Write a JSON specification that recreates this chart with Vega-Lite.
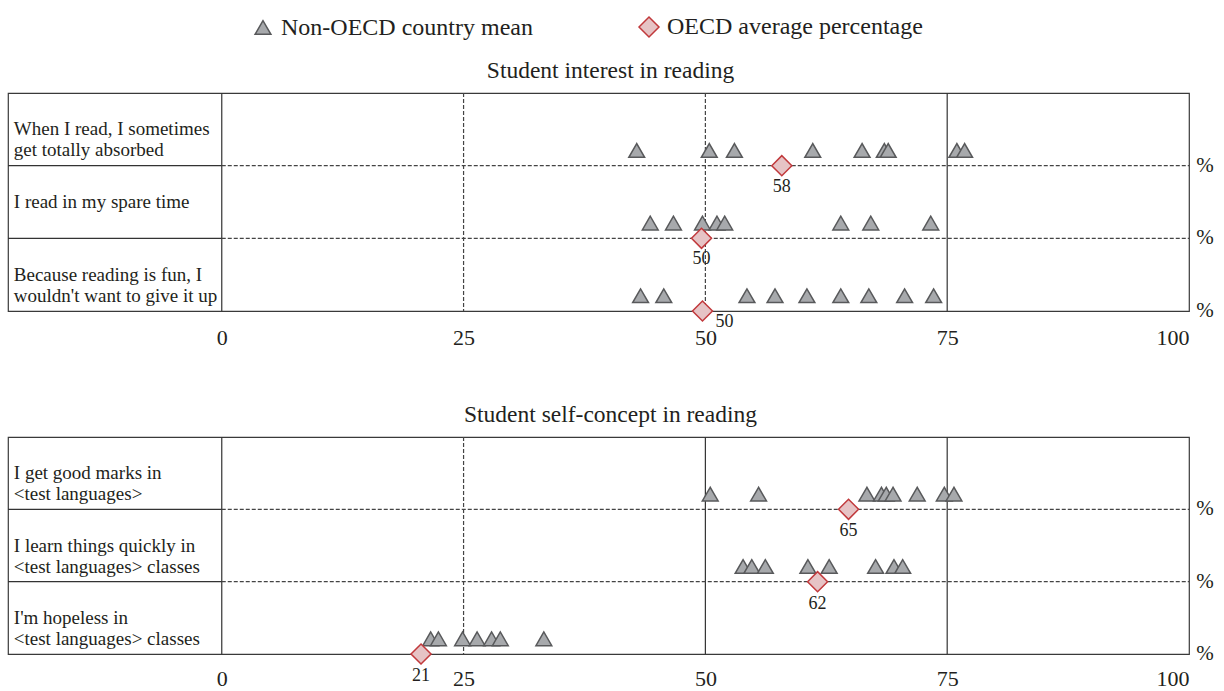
{
  "$schema": "https://vega.github.io/schema/vega-lite/v6.json",
  "background": "white",
  "padding": {"left": 6, "top": 15, "right": 0, "bottom": 0},
  "config": {
    "font": "Liberation Serif",
    "view": {"stroke": "#3a3a3a", "strokeWidth": 1.2},
    "axis": {"labelFont": "Liberation Serif", "labelFontSize": 22, "labelColor": "#231f20"},
    "title": {"font": "Liberation Serif", "fontSize": 23.5, "fontWeight": "normal", "color": "#231f20", "offset": 10, "anchor": "middle", "dx": 12},
    "legend": {"labelFont": "Liberation Serif", "labelFontSize": 24, "labelColor": "#231f20", "labelLimit": 500, "symbolStrokeWidth": 1.5, "labelOffset": 6, "columnPadding": 103, "padding": 0}
  },
  "spacing": 53,
  "datasets": {
    "pts": [
      {"panel": "interest", "row": 1, "kind": "Non-OECD country mean", "value": 42.9},
      {"panel": "interest", "row": 1, "kind": "Non-OECD country mean", "value": 50.4},
      {"panel": "interest", "row": 1, "kind": "Non-OECD country mean", "value": 53.0},
      {"panel": "interest", "row": 1, "kind": "Non-OECD country mean", "value": 61.1},
      {"panel": "interest", "row": 1, "kind": "Non-OECD country mean", "value": 66.2},
      {"panel": "interest", "row": 1, "kind": "Non-OECD country mean", "value": 68.5},
      {"panel": "interest", "row": 1, "kind": "Non-OECD country mean", "value": 68.9},
      {"panel": "interest", "row": 1, "kind": "Non-OECD country mean", "value": 76.0},
      {"panel": "interest", "row": 1, "kind": "Non-OECD country mean", "value": 76.8},
      {"panel": "interest", "row": 1, "kind": "OECD average percentage", "value": 57.9},
      {"panel": "interest", "row": 2, "kind": "Non-OECD country mean", "value": 44.3},
      {"panel": "interest", "row": 2, "kind": "Non-OECD country mean", "value": 46.7},
      {"panel": "interest", "row": 2, "kind": "Non-OECD country mean", "value": 49.7},
      {"panel": "interest", "row": 2, "kind": "Non-OECD country mean", "value": 51.2},
      {"panel": "interest", "row": 2, "kind": "Non-OECD country mean", "value": 52.0},
      {"panel": "interest", "row": 2, "kind": "Non-OECD country mean", "value": 64.0},
      {"panel": "interest", "row": 2, "kind": "Non-OECD country mean", "value": 67.1},
      {"panel": "interest", "row": 2, "kind": "Non-OECD country mean", "value": 73.3},
      {"panel": "interest", "row": 2, "kind": "OECD average percentage", "value": 49.6},
      {"panel": "interest", "row": 3, "kind": "Non-OECD country mean", "value": 43.3},
      {"panel": "interest", "row": 3, "kind": "Non-OECD country mean", "value": 45.7},
      {"panel": "interest", "row": 3, "kind": "Non-OECD country mean", "value": 54.3},
      {"panel": "interest", "row": 3, "kind": "Non-OECD country mean", "value": 57.2},
      {"panel": "interest", "row": 3, "kind": "Non-OECD country mean", "value": 60.5},
      {"panel": "interest", "row": 3, "kind": "Non-OECD country mean", "value": 64.0},
      {"panel": "interest", "row": 3, "kind": "Non-OECD country mean", "value": 66.9},
      {"panel": "interest", "row": 3, "kind": "Non-OECD country mean", "value": 70.6},
      {"panel": "interest", "row": 3, "kind": "Non-OECD country mean", "value": 73.6},
      {"panel": "interest", "row": 3, "kind": "OECD average percentage", "value": 49.7},
      {"panel": "self", "row": 1, "kind": "Non-OECD country mean", "value": 50.5},
      {"panel": "self", "row": 1, "kind": "Non-OECD country mean", "value": 55.5},
      {"panel": "self", "row": 1, "kind": "Non-OECD country mean", "value": 66.7},
      {"panel": "self", "row": 1, "kind": "Non-OECD country mean", "value": 68.2},
      {"panel": "self", "row": 1, "kind": "Non-OECD country mean", "value": 68.7},
      {"panel": "self", "row": 1, "kind": "Non-OECD country mean", "value": 69.4},
      {"panel": "self", "row": 1, "kind": "Non-OECD country mean", "value": 71.9},
      {"panel": "self", "row": 1, "kind": "Non-OECD country mean", "value": 74.7},
      {"panel": "self", "row": 1, "kind": "Non-OECD country mean", "value": 75.7},
      {"panel": "self", "row": 1, "kind": "OECD average percentage", "value": 64.8},
      {"panel": "self", "row": 2, "kind": "Non-OECD country mean", "value": 53.9},
      {"panel": "self", "row": 2, "kind": "Non-OECD country mean", "value": 54.8},
      {"panel": "self", "row": 2, "kind": "Non-OECD country mean", "value": 56.2},
      {"panel": "self", "row": 2, "kind": "Non-OECD country mean", "value": 60.6},
      {"panel": "self", "row": 2, "kind": "Non-OECD country mean", "value": 62.8},
      {"panel": "self", "row": 2, "kind": "Non-OECD country mean", "value": 67.6},
      {"panel": "self", "row": 2, "kind": "Non-OECD country mean", "value": 69.5},
      {"panel": "self", "row": 2, "kind": "Non-OECD country mean", "value": 70.4},
      {"panel": "self", "row": 2, "kind": "OECD average percentage", "value": 61.6},
      {"panel": "self", "row": 3, "kind": "Non-OECD country mean", "value": 21.6},
      {"panel": "self", "row": 3, "kind": "Non-OECD country mean", "value": 22.4},
      {"panel": "self", "row": 3, "kind": "Non-OECD country mean", "value": 24.9},
      {"panel": "self", "row": 3, "kind": "Non-OECD country mean", "value": 26.4},
      {"panel": "self", "row": 3, "kind": "Non-OECD country mean", "value": 27.9},
      {"panel": "self", "row": 3, "kind": "Non-OECD country mean", "value": 28.8},
      {"panel": "self", "row": 3, "kind": "Non-OECD country mean", "value": 33.3},
      {"panel": "self", "row": 3, "kind": "OECD average percentage", "value": 20.6}
    ],
    "items": [
      {"panel": "interest", "row": 1, "label": "When I read, I sometimes\nget totally absorbed", "unit": "%"},
      {"panel": "interest", "row": 2, "label": "I read in my spare time", "unit": "%"},
      {"panel": "interest", "row": 3, "label": "Because reading is fun, I\nwouldn't want to give it up", "unit": "%"},
      {"panel": "self", "row": 1, "label": "I get good marks in\n<test languages>", "unit": "%"},
      {"panel": "self", "row": 2, "label": "I learn things quickly in\n<test languages> classes", "unit": "%"},
      {"panel": "self", "row": 3, "label": "I'm hopeless in\n<test languages> classes", "unit": "%"}
    ]
  },
  "vconcat": [
    {
      "title": {"text": "Student interest in reading"},
      "width": 1181,
      "height": 218,
      "layer": [
        {
          "data": {"values": [{"v": 0}, {"v": 75}]},
          "mark": {"type": "rule", "color": "#333333", "strokeWidth": 1.2},
          "encoding": {
            "x": {"field": "v", "type": "quantitative",
              "scale": {"domain": [-22.1, 100], "nice": false, "zero": false},
              "axis": {"values": [0, 25, 50, 75, 100], "grid": false, "domain": false, "ticks": false, "labelPadding": 16, "title": null}}
          }
        },
        {
          "data": {"values": [{"v": 25}, {"v": 50}]},
          "mark": {"type": "rule", "color": "#444444", "strokeWidth": 1.2, "strokeDash": [4, 2]},
          "encoding": {"x": {"field": "v", "type": "quantitative"}}
        },
        {
          "data": {"name": "items"},
          "transform": [{"filter": "datum.panel == 'interest' && datum.row < 3"}],
          "mark": {"type": "rule", "color": "#333333", "strokeWidth": 1.2},
          "encoding": {
            "x": {"datum": -22.1},
            "x2": {"datum": 0},
            "y": {"field": "row", "type": "ordinal", "bandPosition": 1, "scale": {"type": "band", "domain": [1, 2, 3], "paddingInner": 0, "paddingOuter": 0}, "axis": null}
          }
        },
        {
          "data": {"name": "items"},
          "transform": [{"filter": "datum.panel == 'interest' && datum.row < 3"}],
          "mark": {"type": "rule", "color": "#444444", "strokeWidth": 1.2, "strokeDash": [4, 2]},
          "encoding": {
            "x": {"datum": 0},
            "x2": {"datum": 100},
            "y": {"field": "row", "type": "ordinal", "bandPosition": 1}
          }
        },
        {
          "data": {"name": "items"},
          "transform": [{"filter": "datum.panel == 'interest'"}],
          "mark": {"type": "text", "align": "left", "baseline": "middle", "fontSize": 19, "lineHeight": 21, "lineBreak": "\n", "color": "#231f20"},
          "encoding": {
            "x": {"datum": -21.5},
            "y": {"field": "row", "type": "ordinal", "bandPosition": 0.5},
            "text": {"field": "label"}
          }
        },
        {
          "data": {"name": "items"},
          "transform": [{"filter": "datum.panel == 'interest'"}],
          "mark": {"type": "text", "align": "center", "baseline": "middle", "fontSize": 21, "dx": 16, "color": "#231f20"},
          "encoding": {
            "x": {"datum": 100},
            "y": {"field": "row", "type": "ordinal", "bandPosition": 1},
            "text": {"field": "unit"}
          }
        },
        {
          "data": {"name": "pts"},
          "transform": [{"filter": "datum.panel == 'interest' && datum.kind == 'Non-OECD country mean'"}],
          "mark": {"type": "point", "filled": true, "opacity": 1, "strokeWidth": 1.5},
          "encoding": {
            "x": {"field": "value", "type": "quantitative"},
            "y": {"field": "row", "type": "ordinal", "bandPosition": 0.79},
            "shape": {"field": "kind", "type": "nominal", "scale": {"domain": ["Non-OECD country mean", "OECD average percentage"], "range": ["triangle-up", "diamond"]},
              "legend": {"orient": "none", "direction": "horizontal", "legendX": 243, "legendY": -78, "title": null}},
            "fill": {"field": "kind", "type": "nominal", "scale": {"domain": ["Non-OECD country mean", "OECD average percentage"], "range": ["#a7a9ac", "#e6c3c5"]}},
            "stroke": {"field": "kind", "type": "nominal", "scale": {"domain": ["Non-OECD country mean", "OECD average percentage"], "range": ["#58595b", "#c1393c"]}},
            "size": {"field": "kind", "type": "nominal", "scale": {"domain": ["Non-OECD country mean", "OECD average percentage"], "range": [250, 400]}}
          }
        },
        {
          "data": {"name": "pts"},
          "transform": [{"filter": "datum.panel == 'interest' && datum.kind == 'OECD average percentage'"}],
          "mark": {"type": "point", "filled": true, "opacity": 1, "strokeWidth": 1.5},
          "encoding": {
            "x": {"field": "value", "type": "quantitative"},
            "y": {"field": "row", "type": "ordinal", "bandPosition": 1},
            "shape": {"field": "kind", "type": "nominal"},
            "fill": {"field": "kind", "type": "nominal"},
            "stroke": {"field": "kind", "type": "nominal"},
            "size": {"field": "kind", "type": "nominal"}
          }
        },
        {
          "data": {"name": "pts"},
          "transform": [{"filter": "datum.panel == 'interest' && datum.kind == 'OECD average percentage' && datum.row < 3"}],
          "mark": {"type": "text", "align": "center", "baseline": "middle", "fontSize": 18, "dy": 21, "color": "#231f20"},
          "encoding": {
            "x": {"field": "value", "type": "quantitative"},
            "y": {"field": "row", "type": "ordinal", "bandPosition": 1},
            "text": {"field": "value", "format": ".0f"}
          }
        },
        {
          "data": {"name": "pts"},
          "transform": [{"filter": "datum.panel == 'interest' && datum.kind == 'OECD average percentage' && datum.row == 3"}],
          "mark": {"type": "text", "align": "center", "baseline": "middle", "fontSize": 18, "dx": 22, "dy": 11, "color": "#231f20"},
          "encoding": {
            "x": {"field": "value", "type": "quantitative"},
            "y": {"field": "row", "type": "ordinal", "bandPosition": 1},
            "text": {"field": "value", "format": ".0f"}
          }
        }
      ]
    },
    {
      "title": {"text": "Student self-concept in reading"},
      "width": 1181,
      "height": 217,
      "layer": [
        {
          "data": {"values": [{"v": 0}, {"v": 50}, {"v": 75}]},
          "mark": {"type": "rule", "color": "#333333", "strokeWidth": 1.2},
          "encoding": {
            "x": {"field": "v", "type": "quantitative",
              "scale": {"domain": [-22.1, 100], "nice": false, "zero": false},
              "axis": {"values": [0, 25, 50, 75, 100], "grid": false, "domain": false, "ticks": false, "labelPadding": 14, "title": null}}
          }
        },
        {
          "data": {"values": [{"v": 25}]},
          "mark": {"type": "rule", "color": "#444444", "strokeWidth": 1.2, "strokeDash": [4, 2]},
          "encoding": {"x": {"field": "v", "type": "quantitative"}}
        },
        {
          "data": {"name": "items"},
          "transform": [{"filter": "datum.panel == 'self' && datum.row < 3"}],
          "mark": {"type": "rule", "color": "#333333", "strokeWidth": 1.2},
          "encoding": {
            "x": {"datum": -22.1},
            "x2": {"datum": 0},
            "y": {"field": "row", "type": "ordinal", "bandPosition": 1, "scale": {"type": "band", "domain": [1, 2, 3], "paddingInner": 0, "paddingOuter": 0}, "axis": null}
          }
        },
        {
          "data": {"name": "items"},
          "transform": [{"filter": "datum.panel == 'self' && datum.row < 3"}],
          "mark": {"type": "rule", "color": "#444444", "strokeWidth": 1.2, "strokeDash": [4, 2]},
          "encoding": {
            "x": {"datum": 0},
            "x2": {"datum": 100},
            "y": {"field": "row", "type": "ordinal", "bandPosition": 1}
          }
        },
        {
          "data": {"name": "items"},
          "transform": [{"filter": "datum.panel == 'self'"}],
          "mark": {"type": "text", "align": "left", "baseline": "middle", "fontSize": 19, "lineHeight": 21, "lineBreak": "\n", "color": "#231f20"},
          "encoding": {
            "x": {"datum": -21.5},
            "y": {"field": "row", "type": "ordinal", "bandPosition": 0.5},
            "text": {"field": "label"}
          }
        },
        {
          "data": {"name": "items"},
          "transform": [{"filter": "datum.panel == 'self'"}],
          "mark": {"type": "text", "align": "center", "baseline": "middle", "fontSize": 21, "dx": 16, "color": "#231f20"},
          "encoding": {
            "x": {"datum": 100},
            "y": {"field": "row", "type": "ordinal", "bandPosition": 1},
            "text": {"field": "unit"}
          }
        },
        {
          "data": {"name": "pts"},
          "transform": [{"filter": "datum.panel == 'self' && datum.kind == 'Non-OECD country mean'"}],
          "mark": {"type": "point", "filled": true, "opacity": 1, "strokeWidth": 1.5},
          "encoding": {
            "x": {"field": "value", "type": "quantitative"},
            "y": {"field": "row", "type": "ordinal", "bandPosition": 0.79},
            "shape": {"field": "kind", "type": "nominal"},
            "fill": {"field": "kind", "type": "nominal"},
            "stroke": {"field": "kind", "type": "nominal"},
            "size": {"field": "kind", "type": "nominal"}
          }
        },
        {
          "data": {"name": "pts"},
          "transform": [{"filter": "datum.panel == 'self' && datum.kind == 'OECD average percentage'"}],
          "mark": {"type": "point", "filled": true, "opacity": 1, "strokeWidth": 1.5},
          "encoding": {
            "x": {"field": "value", "type": "quantitative"},
            "y": {"field": "row", "type": "ordinal", "bandPosition": 1},
            "shape": {"field": "kind", "type": "nominal"},
            "fill": {"field": "kind", "type": "nominal"},
            "stroke": {"field": "kind", "type": "nominal"},
            "size": {"field": "kind", "type": "nominal"}
          }
        },
        {
          "data": {"name": "pts"},
          "transform": [{"filter": "datum.panel == 'self' && datum.kind == 'OECD average percentage'"}],
          "mark": {"type": "text", "align": "center", "baseline": "middle", "fontSize": 18, "dy": 22, "color": "#231f20"},
          "encoding": {
            "x": {"field": "value", "type": "quantitative"},
            "y": {"field": "row", "type": "ordinal", "bandPosition": 1},
            "text": {"field": "value", "format": ".0f"}
          }
        }
      ]
    }
  ]
}
